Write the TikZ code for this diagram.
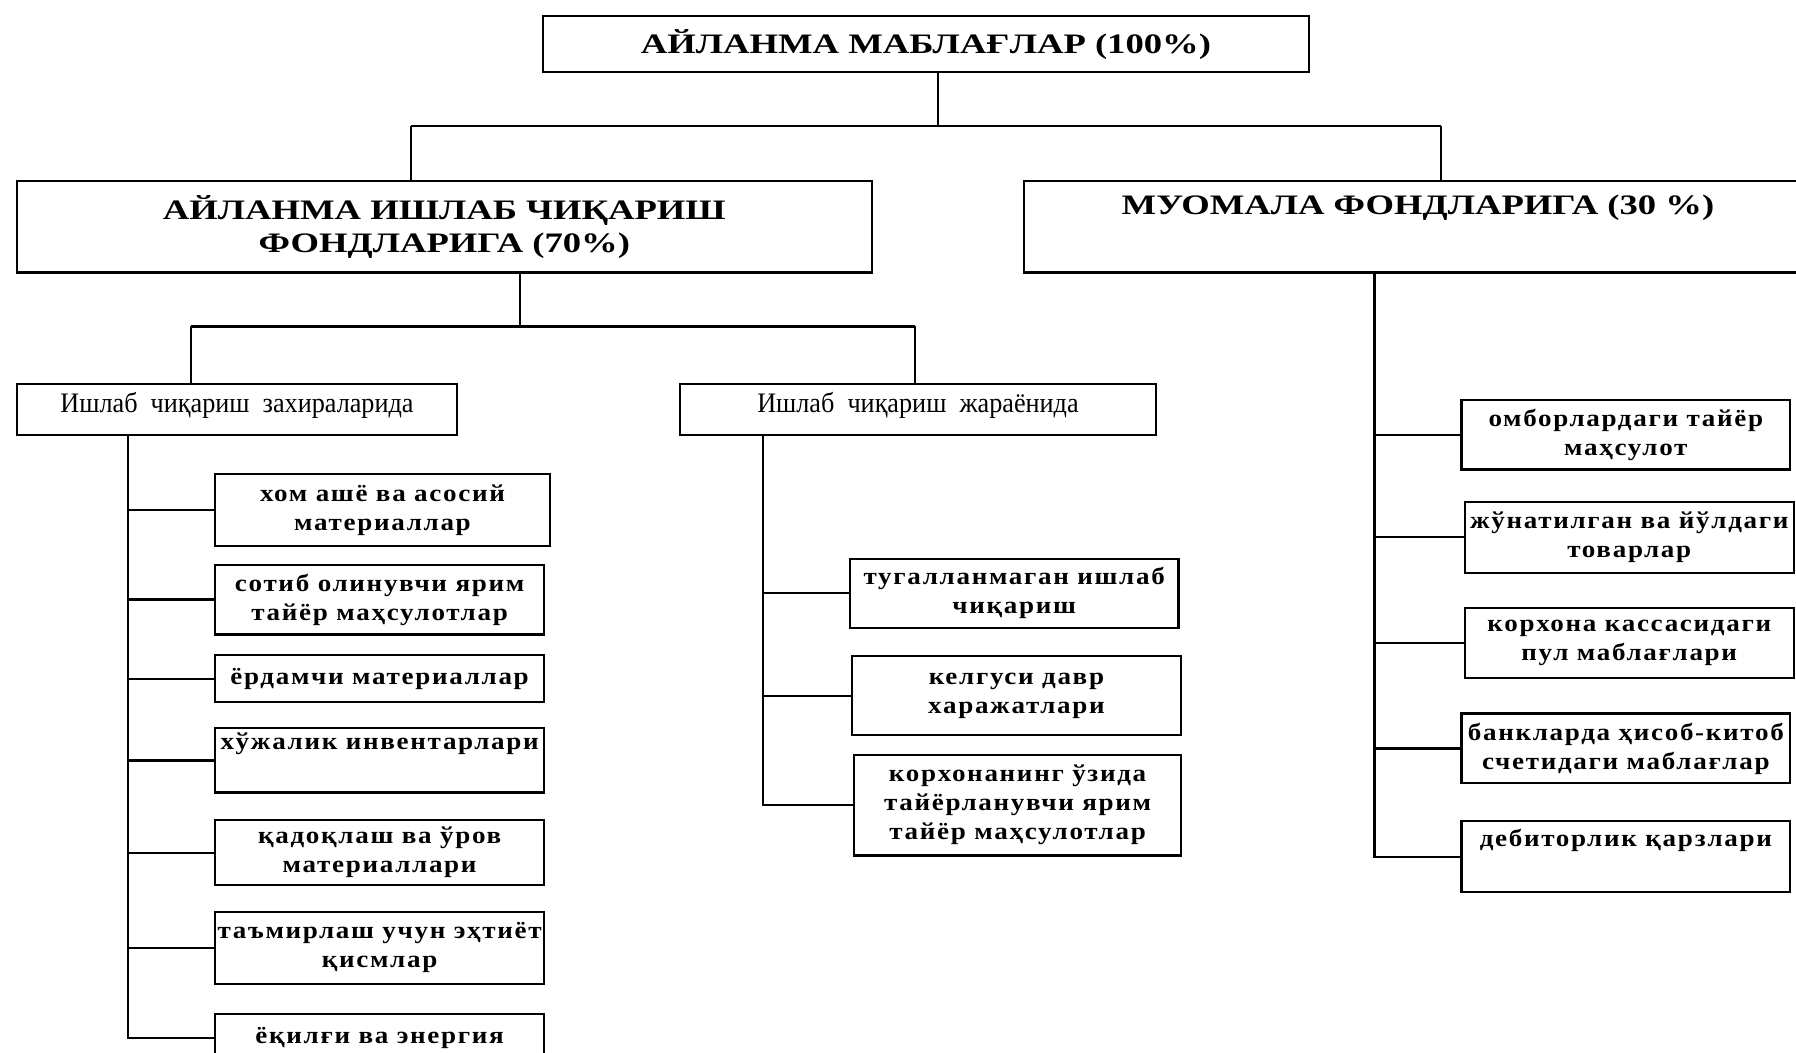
\documentclass[tikz,border=0pt]{standalone}
\usepackage{fontspec}
\setmainfont{Liberation Serif}
\newfontfamily\headfont[FakeStretch=1.3]{Liberation Serif}
\newfontfamily\leaffont[FakeStretch=1.12,LetterSpace=7]{Liberation Serif}
\newfontfamily\subfont[FakeStretch=0.93]{Liberation Serif}
\usetikzlibrary{positioning}

\tikzset{
  box/.style={draw,line width=.8pt,inner sep=1pt,inner xsep=0pt,align=center,anchor=north west},
  sz/.style 2 args={minimum width=#1*.15mm,minimum height=#2*.15mm},
  head/.style={font={\headfont\bfseries\fontsize{10.5}{12.4}\selectfont}},
  leaf/.style={font={\leaffont\bfseries\fontsize{9}{10.8}\selectfont}},
  sub/.style={font={\subfont\fontsize{10.5}{12}\selectfont}},
  link/.style={line width=.8pt}
}

\begin{document}
\begin{tikzpicture}[x=.15mm,y=-.15mm]
  \useasboundingbox (0,0) rectangle (1568,919);

    % yuqori daraja
    \node[box,head,sz={669}{49}] (top) at (473,13) {АЙЛАНМА МАБЛАҒЛАР (100\%)};

    % ikkinchi daraja
    \node[box,head,sz={746}{80}] (l2a) at (14,157) {АЙЛАНМА ИШЛАБ ЧИҚАРИШ \\ ФОНДЛАРИГА (70\%)};
    \node[box,head,sz={688}{80}] (l2b) at (893,157) {МУОМАЛА ФОНДЛАРИГА (30 \%) \\ \strut};

    % uchinchi daraja
    \node[box,sub,sz={384}{45}] (l3a) at (14,334) {\raisebox{5pt}{Ишлаб~ чиқариш~ захираларида}};
    \node[box,sub,sz={415}{45}] (l3b) at (593,334) {\raisebox{5pt}{Ишлаб~ чиқариш~ жараёнида}};

    % zahiralar
    \node[box,leaf,sz={292}{63}] (a1) at (187,413) {хом ашё ва асосий \\ материаллар};
    \node[box,leaf,sz={287}{61}] (a2) at (187,492) {сотиб олинувчи ярим \\ тайёр маҳсулотлар};
    \node[box,leaf,sz={287}{41}] (a3) at (187,571) {ёрдамчи материаллар};
    \node[box,leaf,sz={287}{56}] (a4) at (187,635) {хўжалик инвентарлари \\ \strut};
    \node[box,leaf,sz={287}{57}] (a5) at (187,715) {қадоқлаш ва ўров \\ материаллари};
    \node[box,leaf,sz={287}{63}] (a6) at (187,795) {таъмирлаш учун эҳтиёт \\ қисмлар};
    \node[box,leaf,sz={287}{42}] (a7) at (187,884) {ёқилғи ва энергия};

    % jarayonda
    \node[box,leaf,sz={287}{60}] (b1) at (741,487) {тугалланмаган ишлаб \\ чиқариш};
    \node[box,leaf,sz={287}{69}] (b2) at (743,572) {келгуси давр \\ харажатлари};
    \node[box,leaf,sz={285}{88}] (b3) at (745,658) {корхонанинг ўзида \\ тайёрланувчи ярим \\ тайёр маҳсулотлар};

    % muomala fondlari
    \node[box,leaf,sz={287}{61}] (c1) at (1275,348) {омборлардаги тайёр \\ маҳсулот};
    \node[box,leaf,sz={287}{62}] (c2) at (1278,437) {жўнатилган ва йўлдаги \\ товарлар};
    \node[box,leaf,sz={287}{61}] (c3) at (1278,530) {корхона кассасидаги \\ пул маблағлари};
    \node[box,leaf,sz={287}{61}] (c4) at (1275,622) {банкларда ҳисоб-китоб \\ счетидаги маблағлар};
    \node[box,leaf,sz={287}{62}] (c5) at (1275,716) {дебиторлик қарзлари \\ \strut};

    % tutashtiruvchi chiziqlar
    \coordinate (b1l) at (359,110);
    \coordinate (b1r) at (1258,110);
    \coordinate (b1m) at (819,110);
    \draw[link] (b1m |- top.south) -- (b1m);
    \draw[link] (b1l) -- (b1r);
    \draw[link] (b1l) -- (b1l |- l2a.north);
    \draw[link] (b1r) -- (b1r |- l2b.north);

    \coordinate (b2l) at (167,285);
    \coordinate (b2r) at (799,285);
    \coordinate (b2m) at (454,285);
    \draw[link] (b2m |- l2a.south) -- (b2m);
    \draw[link] (b2l) -- (b2r);
    \draw[link] (b2l) -- (b2l |- l3a.north);
    \draw[link] (b2r) -- (b2r |- l3b.north);

    % shoxlar
    \coordinate (sa) at (112,0);
    \coordinate (sb) at (666,0);
    \coordinate (sc) at (1200,0);
    \draw[link] (sa |- l3a.south) |- (a7.west);
    \foreach \n in {a1,a2,a3,a4,a5,a6}
      \draw[link] (sa |- \n.west) -- (\n.west);
    \draw[link] (sb |- l3b.south) |- (b3.west);
    \foreach \n in {b1,b2}
      \draw[link] (sb |- \n.west) -- (\n.west);
    \draw[link] (sc |- l2b.south) |- (c5.west);
    \foreach \n in {c1,c2,c3,c4}
      \draw[link] (sc |- \n.west) -- (\n.west);

\end{tikzpicture}
\end{document}
